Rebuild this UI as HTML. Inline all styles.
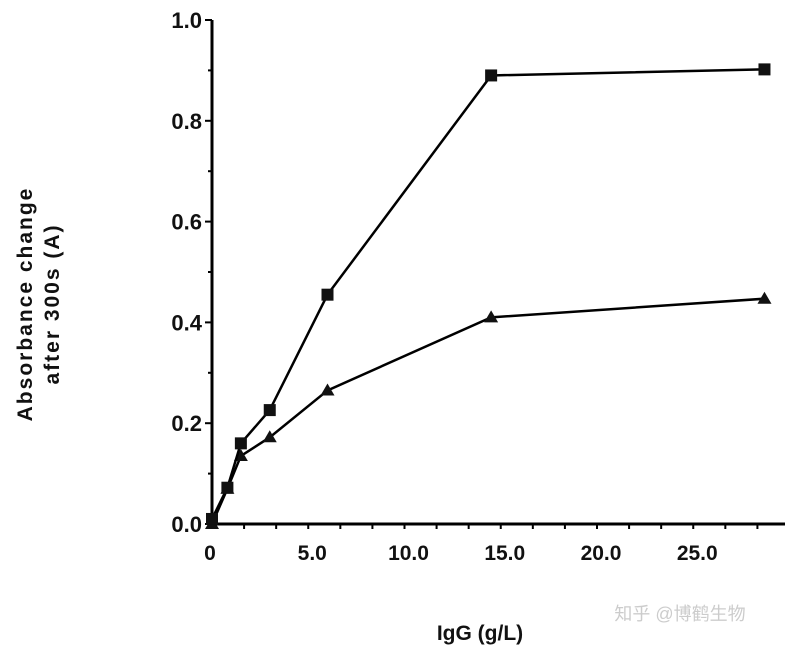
<!DOCTYPE html>
<html><head><meta charset="utf-8"><style>
body{margin:0;background:#fff}
svg text{font-family:"Liberation Sans",Arial,sans-serif;font-weight:bold;fill:#111}
</style></head><body>
<svg id="chart" width="790" height="647" viewBox="0 0 790 647">
<g id="axes"></g>
<g id="marks"></g>
<text x="480" y="640" font-size="21" text-anchor="middle">IgG (g/L)</text>
<text transform="translate(32,304) rotate(-90)" font-size="21" letter-spacing="2" text-anchor="middle">Absorbance change</text>
<text transform="translate(59,304) rotate(-90)" font-size="21" letter-spacing="2" text-anchor="middle">after 300s (A)</text>
<text x="680" y="620" font-size="18" text-anchor="middle" style="fill:#ccc;font-weight:normal;font-family:'Liberation Sans','Noto Sans CJK SC',sans-serif">知乎 @博鹤生物</text>
</svg>
<script>
const xTicks=[0,5,10,15,20,25];
const xTickLabels=["0","5.0","10.0","15.0","20.0","25.0"];
const yTicks=[0,0.2,0.4,0.6,0.8,1.0];
const yTickLabels=["0.0","0.2","0.4","0.6","0.8","1.0"];
const xSquares=[0,0.8,1.5,3,6,14.5,28.7];
const ySquares=[0.01,0.072,0.16,0.226,0.455,0.89,0.902];
const xTriangles=[0,0.8,1.5,3,6,14.5,28.7];
const yTriangles=[0,0.07,0.135,0.172,0.265,0.41,0.447];
const NS="http://www.w3.org/2000/svg";
const X0=212,Y0=524;
function sx(v){return X0+v*19.25;}
function sy(v){return Y0-v*504;}
function mk(tag,attrs,parent){const e=document.createElementNS(NS,tag);for(const k in attrs)e.setAttribute(k,attrs[k]);parent.appendChild(e);return e;}
const axes=document.getElementById('axes'),marks=document.getElementById('marks');
let a=mk('line',{x1:X0,y1:sy(1.0),x2:X0,y2:Y0+2,stroke:'#000','stroke-width':3},axes);

a=mk('line',{x1:X0-2,y1:Y0,x2:785,y2:Y0,stroke:'#000','stroke-width':3},axes);

for(let v=0;v<=1.0001;v+=0.1){mk('line',{x1:X0-(Math.round(v*10)%2?4:7),y1:sy(v),x2:X0,y2:sy(v),stroke:'#000','stroke-width':2},axes);}
for(let v=0;v<=30;v+=5/3){mk('line',{x1:sx(v),y1:Y0,x2:sx(v),y2:Y0+5,stroke:'#000','stroke-width':2},axes);}
yTicks.forEach((v,i)=>{const t=mk('text',{x:X0-10,y:sy(v)+8,'font-size':22,'text-anchor':'end'},axes);t.textContent=yTickLabels[i];
});
xTicks.forEach((v,i)=>{const t=mk('text',{x:sx(v)+(i?4:-2),y:Y0+36,'font-size':21,'text-anchor':'middle'},axes);t.textContent=xTickLabels[i];
});
function series(xs,ys,shape,name){
  const pts=xs.map((x,i)=>sx(x)+','+sy(ys[i])).join(' ');
  const l=mk('polyline',{points:pts,fill:'none',stroke:'#000','stroke-width':2.5},marks);
  
  xs.forEach((x,i)=>{const cx=sx(x),cy=sy(ys[i]);let m;
    if(shape==='sq')m=mk('rect',{x:cx-6,y:cy-6,width:12,height:12,fill:'#111'},marks);
    else m=mk('polygon',{points:`${cx},${cy-7} ${cx-7},${cy+5} ${cx+7},${cy+5}`,fill:'#111'},marks);
    });
}
series(xTriangles,yTriangles,'tri','triangle-series');
series(xSquares,ySquares,'sq','square-series');
</script>
</body></html>
